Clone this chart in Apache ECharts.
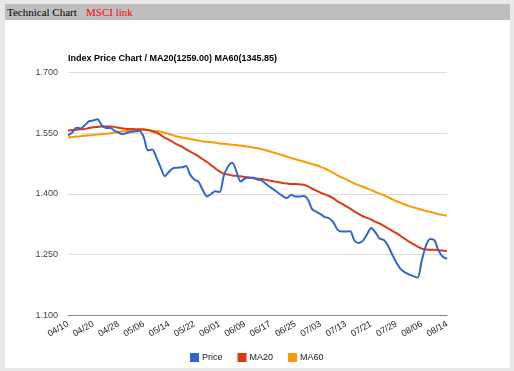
<!DOCTYPE html>
<html>
<head>
<meta charset="utf-8">
<script src="https://cdn.jsdelivr.net/npm/echarts@6/dist/echarts.min.js"></script>
<style>
  html, body { margin:0; padding:0; width:514px; height:371px; background:#e8e8e8; overflow:hidden; }
  #panel { position:absolute; left:5px; top:4px; width:505px; height:364px; background:#ffffff; }
  #bar { position:absolute; left:5px; top:4px; width:505px; height:16px; background:#bebebe; font-family:"Liberation Serif", serif; font-size:11px; line-height:16px; }
  #bar .t { position:absolute; left:2px; top:0; color:#000; }
  #bar .l { position:absolute; left:81px; top:0; color:#ff0000; }
  #chart { position:absolute; left:0; top:0; width:514px; height:371px; }
</style>
</head>
<body>
<div id="panel"></div>
<div id="bar"><span class="t">Technical Chart</span><span class="l">MSCI link</span></div>
<div id="chart"></div>
<script>
const chartTitle = "Index Price Chart / MA20(1259.00) MA60(1345.85)";
const tickLabels = ["04/10","04/20","04/28","05/06","05/14","05/22","06/01","06/09","06/17","06/25","07/03","07/13","07/21","07/29","08/06","08/14"];
const seriesNames = ["Price","MA20","MA60"];
const price = [1545,1552,1564,1562,1570,1580,1582,1585,1570,1563,1563,1557,1552,1548,1551,1554,1555,1556,1540,1508,
  1510,1490,1466,1444,1455,1464,1465,1466,1469,1448,1436,1430,1410,1394,1400,1407,1405,1445,1468,1477,
  1456,1431,1438,1441,1440,1436,1433,1425,1417,1410,1402,1395,1390,1398,1394,1394,1395,1386,1362,1356,
  1350,1343,1340,1330,1312,1307,1307,1308,1285,1279,1284,1300,1316,1305,1290,1286,1272,1250,1230,1214,
  1206,1201,1197,1193,1235,1272,1289,1286,1260,1245,1240];
const ma20 = [1557,1558,1559,1560,1561,1563,1565,1566,1567,1567,1567,1566,1564,1562,1561,1561,1560,1560,1560,1558,
  1555,1552,1546,1539,1534,1528,1522,1517,1511,1505,1499,1493,1486,1479,1471,1463,1456,1450,1448,1446,
  1445,1444,1442,1440,1439,1438,1437,1435,1433,1431,1429,1427,1426,1425,1425,1424,1423,1419,1413,1408,
  1403,1399,1395,1389,1382,1376,1370,1364,1357,1351,1345,1341,1337,1331,1327,1321,1315,1309,1303,1296,
  1289,1282,1276,1270,1265,1263,1262,1262,1261,1260,1259];
const ma60 = [1540,1541,1542,1543,1544,1545,1546,1547,1548,1549,1550,1552,1553,1555,1556,1557,1558,1558,1558,1558,
  1557,1556,1554,1551,1548,1545,1542,1540,1538,1536,1534,1532,1530,1529,1528,1527,1525,1524,1523,1522,
  1521,1520,1518,1517,1515,1513,1511,1508,1505,1502,1499,1496,1492,1489,1486,1483,1480,1477,1474,1471,
  1467,1463,1458,1452,1446,1441,1436,1431,1426,1422,1418,1414,1410,1405,1401,1397,1392,1387,1382,1378,
  1374,1370,1367,1364,1361,1358,1356,1353,1350,1348,1346];
const yMin = 1100, yMax = 1700, yStep = 150;
const pointsPerTick = 6;

const colors = ["#3366cc","#dc3912","#ff9900"];
const toPairs = arr => arr.map((v, i) => [i, v]);
const fmt = v => String(v).replace(/\B(?=(\d{3})+(?!\d))/g, ".");

const chart = echarts.init(document.getElementById('chart'), null, {renderer:'canvas'});
chart.setOption({
  animation:false,
  backgroundColor:'transparent',
  color: colors,
  title: { text: chartTitle, left: 63, top: 49, textStyle: { fontFamily:'Liberation Sans', fontSize:9, fontWeight:'bold', color:'#000' } },
  grid: { left: 68, right: 67, top: 72.7, bottom: 55.7 },
  legend: {
    data: seriesNames, bottom: 4, left: 185, icon: 'rect', itemWidth: 9, itemHeight: 9, itemGap: 15,
    textStyle: { fontFamily:'Liberation Sans', fontSize:9, color:'#222', padding:[0,0,0,-2] }
  },
  xAxis: {
    type:'value', min:0, max:(tickLabels.length-1)*pointsPerTick, interval:pointsPerTick,
    axisLine:{ show:true, lineStyle:{ color:'#888', width:1 } },
    axisTick:{ show:false }, splitLine:{ show:false },
    axisLabel:{ rotate:30, margin:8, fontFamily:'Liberation Sans', fontSize:9, color:'#222',
      formatter: v => tickLabels[Math.round(v/pointsPerTick)] }
  },
  yAxis: {
    type:'value', min:yMin, max:yMax, interval:yStep,
    axisLine:{ show:false }, axisTick:{ show:false },
    splitLine:{ lineStyle:{ color:'#dddddd', width:1 } },
    axisLabel:{ margin:10, fontFamily:'Liberation Sans', fontSize:9, color:'#444', formatter: fmt }
  },
  series: [
    { name:seriesNames[0], type:'line', data:toPairs(price), showSymbol:false, smooth:0.3, lineStyle:{ width:2 }, z:3 },
    { name:seriesNames[1], type:'line', data:toPairs(ma20), showSymbol:false, smooth:0.3, lineStyle:{ width:2 }, z:2 },
    { name:seriesNames[2], type:'line', data:toPairs(ma60), showSymbol:false, smooth:0.3, lineStyle:{ width:2 }, z:1 }
  ]
});
</script>
</body>
</html>
